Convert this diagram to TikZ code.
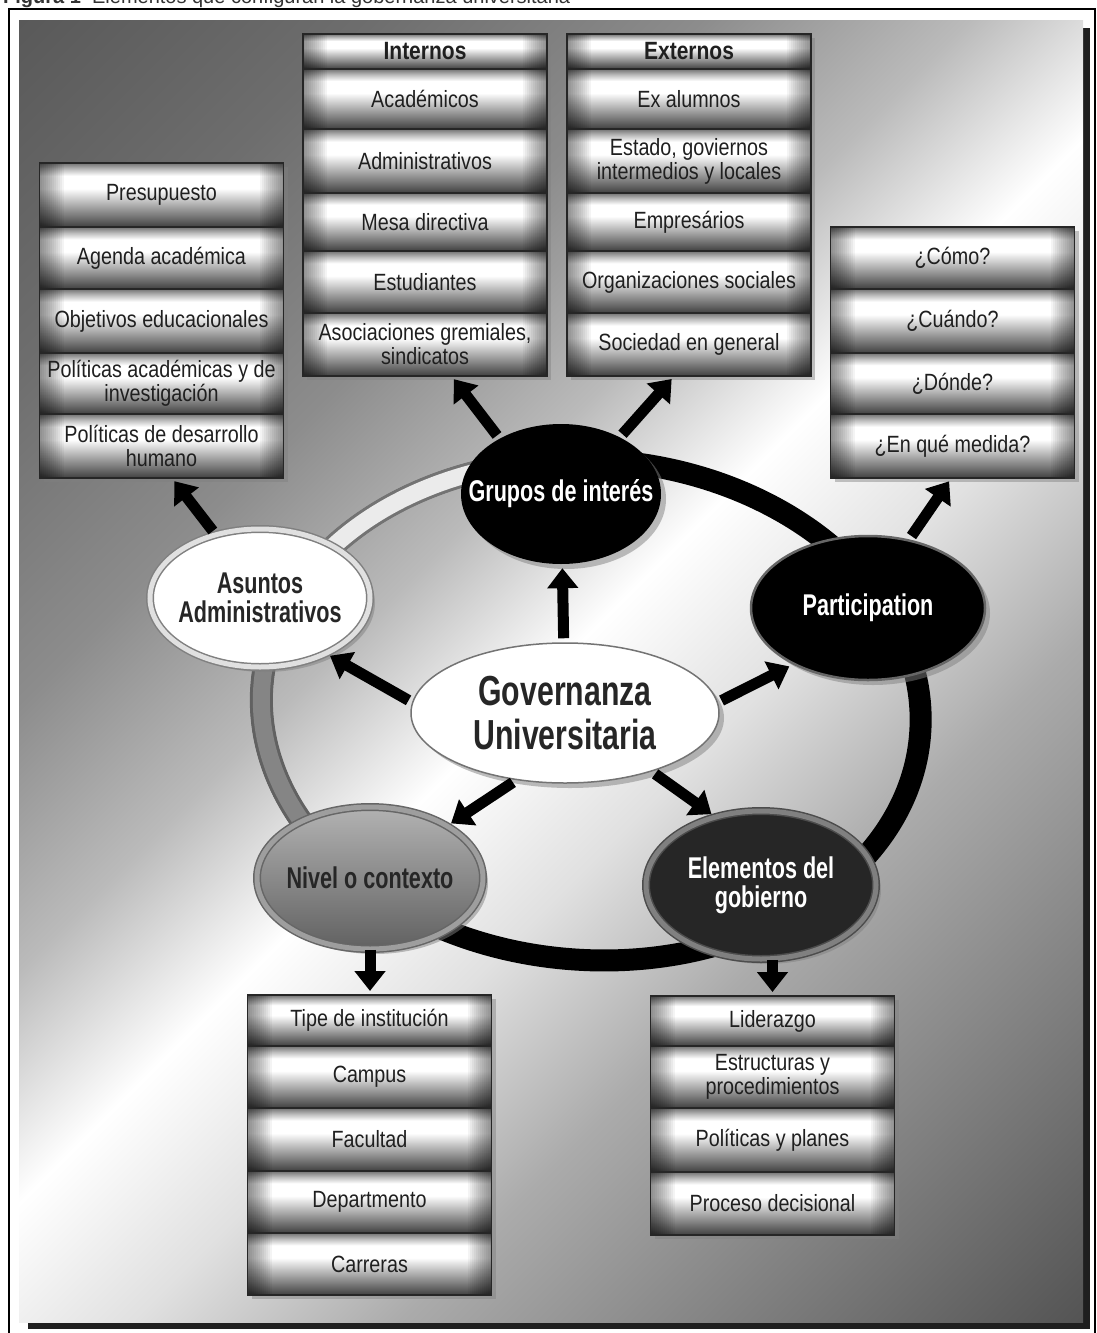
\documentclass[tikz,border=0pt]{standalone}
\usepackage{fontspec}
\setmainfont{Liberation Sans}
\newfontfamily\boxfont{Liberation Sans}[FakeStretch=0.84]
\newfontfamily\ovalfont{Liberation Sans}[FakeStretch=0.72]
\usetikzlibrary{positioning,shapes.geometric,arrows.meta,shadows}
\pgfdeclareverticalshading{metal}{100bp}{color(0bp)=(black!75); color(25bp)=(black!75); color(33bp)=(black!55); color(45bp)=(black!25); color(55bp)=(white); color(65bp)=(white); color(70bp)=(black!25); color(75bp)=(black!55); color(100bp)=(black!55)}
\pgfdeclareverticalshading{panelbg}{100bp}{color(0bp)=(black!67); color(14.6bp)=(black!67); color(35bp)=(black!33); color(43bp)=(black!12); color(50bp)=(white); color(57bp)=(black!27); color(65bp)=(black!45); color(75bp)=(black!57); color(85.4bp)=(black!65); color(100bp)=(black!65)}

\begin{document}
\begin{tikzpicture}[x=1pt, y=-1pt,
   cell/.style={rectangle, draw=black!85, line width=1.2pt, outer sep=0pt, inner sep=1pt,
      minimum width=244pt, align=center, shade, shading=metal, text=black!88,
      font=\boxfont\fontsize{23.5}{24}\selectfont,
      drop shadow={shadow xshift=4pt, shadow yshift=-4pt, opacity=.45},
      path picture={
         \foreach \w in {2,4,...,24} {
            \fill[black, opacity=.045] (path picture bounding box.south west) rectangle ([xshift=\w pt]path picture bounding box.north west);
            \fill[black, opacity=.045] ([xshift=-\w pt]path picture bounding box.south east) rectangle (path picture bounding box.north east);
         }
      }},
   headcell/.style={cell, font=\boxfont\bfseries\fontsize{25}{26}\selectfont},
   oval/.style={ellipse, inner xsep=-30pt, inner ysep=0pt, align=center,
      font=\ovalfont\bfseries\fontsize{30}{29}\selectfont,
      drop shadow={shadow xshift=5pt, shadow yshift=-5pt, opacity=.5}},
   bigarrow/.style={line width=11pt, -{Triangle[width=30pt,length=20pt]}, shorten <=4pt, shorten >=4pt},
]
   \useasboundingbox (0,0) rectangle (1096,1333);

   % frame and background
   \node[anchor=base west, inner sep=0pt, text=black!80, font=\fontsize{20}{20}\selectfont] (caption) at (3,4)
      {\textbf{Figura 1} \ Elementos que configuran la gobernanza universitaria};
   \draw[line width=1.3pt] (9,1345) -- (9,9) -- (1095,9) -- (1095,1345);
   \fill[black!88] (28,28) rectangle (1090,1329);
   \shade[shading=panelbg, shading angle=45] (19,20) rectangle (1083,1322);

   % ring
   \coordinate (hub) at (591,710);
   \begin{scope}[shift={(hub)}, rotate=-4]
      \draw[line width=22pt, black] (0,0) ellipse[x radius=330, y radius=250];
      \draw[line width=3pt, black!55, double=black!8, double distance=17pt] (198:330 and 250) arc[start angle=198, end angle=260, x radius=330, y radius=250];
      \draw[line width=3pt, black!62, double=black!48, double distance=17pt] (130:330 and 250) arc[start angle=130, end angle=198, x radius=330, y radius=250];
   \end{scope}

   % ovals
   \node[oval, minimum width=200pt, minimum height=140pt, fill=black, text=white] (grp) at (561,494) {Grupos de interés};
   \node[oval, minimum width=234pt, minimum height=144pt, fill=black, draw=black!60, line width=2.5pt, text=white] (prt) at (868,608) {Participation};
   \node[oval, minimum width=220pt, minimum height=138pt, fill=white, draw=black!50, double=black!12, double distance=5pt, line width=1.5pt, text=black!85] (asu) at (260,598) {Asuntos\\Administrativos};
   \node[oval, minimum width=226pt, minimum height=142pt, top color=black!30, bottom color=black!62, draw=black!60, double=black!38, double distance=5pt, line width=1.5pt, text=black!85] (niv) at (370,878) {Nivel o contexto};
   \node[oval, minimum width=230pt, minimum height=148pt, fill=black!85, draw=black!70, double=black!50, double distance=5pt, line width=1.5pt, text=white] (ele) at (761,885) {Elementos del\\gobierno};
   \node[oval, minimum width=308pt, minimum height=140pt, fill=white, draw=black!55, line width=1.5pt, text=black!85,
      font=\ovalfont\bfseries\fontsize{42}{44}\selectfont] (gov) at (565,713) {Governanza\\Universitaria};

   % columns
   \node[headcell, minimum height=35pt, anchor=north] (intr0) at (425,34) {Internos};
   \foreach \n/\h/\t [remember=\n as \p (initially intr0)] in {intr1/60/Académicos, intr2/64/Administrativos,
      intr3/58/Mesa directiva, intr4/62/Estudiantes, intr5/63/{Asociaciones gremiales,\\ sindicatos}} {
      \node[cell, minimum height=\h pt, below=0pt of \p] (\n) {\t};
   }
   \node[headcell, minimum height=35pt, anchor=north] (extr0) at (689,34) {Externos};
   \foreach \n/\h/\t [remember=\n as \p (initially extr0)] in {extr1/60/Ex alumnos, extr2/64/{Estado, goviernos\\ intermedios y locales},
      extr3/58/Empresários, extr4/62/Organizaciones sociales, extr5/63/Sociedad en general} {
      \node[cell, minimum height=\h pt, below=0pt of \p] (\n) {\t};
   }
   \coordinate (admtop) at (161.5,163);
   \foreach \n/\h/\t [remember=\n as \p (initially admtop)] in {adm1/64/Presupuesto, adm2/62/Agenda académica,
      adm3/64/Objetivos educacionales, adm4/61/{Políticas académicas y de\\ investigación}, adm5/64/{Políticas de desarrollo\\ humano}} {
      \node[cell, minimum height=\h pt, below=0pt of \p] (\n) {\t};
   }
   \coordinate (qsttop) at (952.5,227);
   \foreach \n/\h/\t [remember=\n as \p (initially qsttop)] in {qst1/62/¿Cómo?, qst2/64/¿Cuándo?, qst3/61/¿Dónde?, qst4/64/¿En qué medida?} {
      \node[cell, minimum height=\h pt, below=0pt of \p] (\n) {\t};
   }
   \coordinate (lvltop) at (369.5,995);
   \foreach \n/\h/\t [remember=\n as \p (initially lvltop)] in {lvl1/51/Tipe de institución, lvl2/62/Campus, lvl3/63/Facultad,
      lvl4/62/Departmento, lvl5/62/Carreras} {
      \node[cell, minimum height=\h pt, below=0pt of \p] (\n) {\t};
   }
   \coordinate (gobtop) at (772.5,996);
   \foreach \n/\h/\t [remember=\n as \p (initially gobtop)] in {gob1/50/Liderazgo, gob2/62/{Estructuras y\\ procedimientos},
      gob3/64/Políticas y planes, gob4/63/Proceso decisional} {
      \node[cell, minimum height=\h pt, below=0pt of \p] (\n) {\t};
   }

   % arrows
   \draw[bigarrow] (gov) -- (grp);
   \draw[bigarrow] (gov.176) -- (asu.-40);
   \draw[bigarrow] (gov.4) -- (prt.217);
   \draw[bigarrow] (gov.234) -- (niv.34);
   \draw[bigarrow] (gov.-34) -- (ele.124);
   \draw[bigarrow] (grp.138) -- (intr5.-50);
   \draw[bigarrow] (grp.44) -- (extr5.-115);
   \draw[bigarrow] (asu.125) -- (adm5.-72);
   \draw[bigarrow] (prt.59) -- (qst4.-92);
   \draw[bigarrow, shorten <=0pt] (niv.south) -- (niv.south |- lvl1.north);
   \draw[bigarrow, shorten <=0pt] (gob1.north |- ele.south) -- (gob1.north);
\end{tikzpicture}
\end{document}
